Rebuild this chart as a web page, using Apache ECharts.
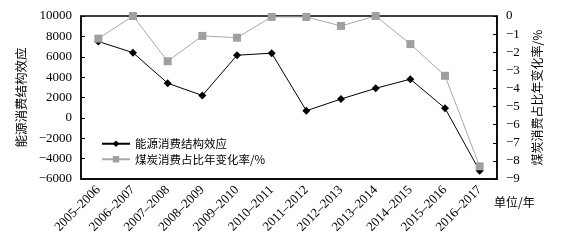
<!DOCTYPE html>
<html>
<head>
<meta charset="utf-8">
<script src="https://cdn.jsdelivr.net/npm/echarts@6/dist/echarts.min.js"></script>
<style>html,body{margin:0;padding:0;background:#fff}#c{width:570px;height:242px}</style>
</head>
<body>
<div id="c"></div>
<script>
const categories = ['2005–2006','2006–2007','2007–2008','2008–2009','2009–2010','2010–2011','2011–2012','2012–2013','2013–2014','2014–2015','2015–2016','2016–2017'];
const structureEffect = [7500, 6400, 3400, 2200, 6150, 6350, 700, 1850, 2900, 3800, 950, -5200];
const coalShareChange = [-1.25, 0, -2.5, -1.1, -1.2, -0.05, -0.05, -0.55, 0, -1.55, -3.3, -8.3];
const seriesNames = ['能源消费结构效应', '煤炭消费占比年变化率/%'];
const leftTicks = {min: -6000, max: 10000, interval: 2000};
const rightTicks = {min: -9, max: 0, interval: 1};

const serif = 'Liberation Serif';
const cjk = 'Noto Sans CJK SC';
const minus = v => v < 0 ? '−' + Math.abs(v) : String(v);
const chart = echarts.init(document.getElementById('c'), null, {renderer: 'canvas'});
chart.setOption({
  animation: false,
  grid: {left: 81, right: 73, top: 16, bottom: 63, show: true, borderColor: '#000', borderWidth: 1.5, backgroundColor: 'transparent'},
  legend: {
    orient: 'vertical', left: 96, top: 133, itemGap: 4, itemWidth: 28, itemHeight: 8,
    textStyle: {fontFamily: cjk, fontSize: 11.5, color: '#000'},
    data: seriesNames
  },
  xAxis: {
    type: 'category', data: categories, boundaryGap: true,
    axisLine: {onZero: false, lineStyle: {color: '#000', width: 1.5}},
    axisTick: {inside: true, length: 4, lineStyle: {color: '#000'}},
    axisLabel: {rotate: 45, margin: 9, fontFamily: serif, fontSize: 13, color: '#000', interval: 0}
  },
  yAxis: [{
    type: 'value', min: leftTicks.min, max: leftTicks.max, interval: leftTicks.interval,
    name: seriesNames[0], nameLocation: 'middle', nameGap: 50, nameRotate: 90,
    nameTextStyle: {fontFamily: cjk, fontSize: 12.5, color: '#000'},
    axisLine: {show: true, lineStyle: {color: '#000', width: 1.5}},
    axisTick: {show: true, inside: true, length: 4, lineStyle: {color: '#000'}},
    splitLine: {show: false},
    axisLabel: {fontFamily: serif, fontSize: 13, color: '#000', margin: 9, formatter: minus}
  }, {
    type: 'value', min: rightTicks.min, max: rightTicks.max, interval: rightTicks.interval, position: 'right',
    name: seriesNames[1], nameLocation: 'middle', nameGap: 34, nameRotate: 90,
    nameTextStyle: {fontFamily: cjk, fontSize: 12, color: '#000'},
    axisLine: {show: true, lineStyle: {color: '#000', width: 1.5}},
    axisTick: {show: true, inside: true, length: 4, lineStyle: {color: '#000'}},
    splitLine: {show: false},
    axisLabel: {fontFamily: serif, fontSize: 13, color: '#000', margin: 9, formatter: minus}
  }],
  graphic: [{type: 'text', left: 494, top: 196, style: {text: '单位/年', fontFamily: cjk, fontSize: 12, fill: '#000'}}],
  series: [{
    name: seriesNames[0], type: 'line', yAxisIndex: 0, data: structureEffect,
    symbol: 'diamond', symbolSize: 8, itemStyle: {color: '#000'}, lineStyle: {color: '#000', width: 1}
  }, {
    name: seriesNames[1], type: 'line', yAxisIndex: 1, data: coalShareChange,
    symbol: 'rect', symbolSize: 8, itemStyle: {color: '#a0a0a0'}, lineStyle: {color: '#a8a8a8', width: 1}
  }]
});
</script>
</body>
</html>
